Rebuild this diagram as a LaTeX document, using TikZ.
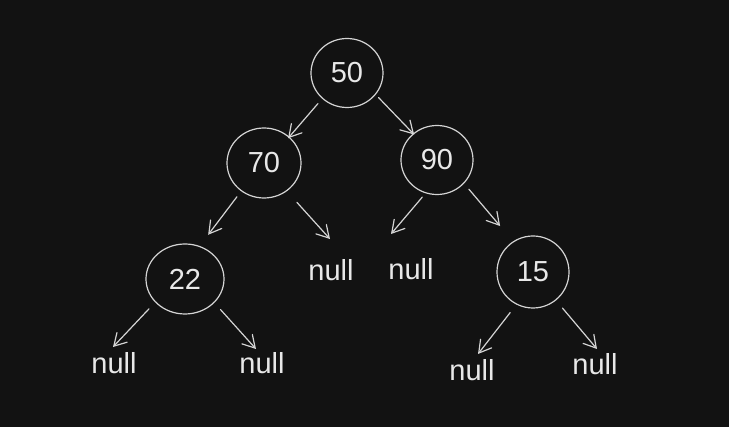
\documentclass[tikz,border=0pt]{standalone}
\usepackage{fontspec}
\setmainfont{Liberation Sans}
\usetikzlibrary{arrows.meta,shapes.geometric}
\definecolor{bg}{HTML}{121212}
\definecolor{ink}{HTML}{D4D4D4}
\definecolor{txt}{HTML}{E8E8E8}
\begin{document}
\begin{tikzpicture}[x=1pt,y=-1pt,
  treenode/.style={ellipse, draw=ink, line width=1.2pt, inner sep=0pt,
    minimum width=72pt, minimum height=69pt, text=txt,
    font=\fontsize{29}{34}\selectfont},
  nulltxt/.style={inner sep=0pt, text=txt, font=\fontsize{29}{34}\selectfont, anchor=base},
  arr/.style={draw=ink, line width=1.2pt, line cap=round,
    -{Straight Barb[length=12pt,width=14pt,line cap=round]}}]
\fill[bg] (0,0) rectangle (729,427);
\useasboundingbox (0,0) rectangle (729,427);

% tree nodes
\node[treenode] (n50) at (347,73) {50};
\node[treenode, minimum width=74pt, minimum height=70pt] (n70) at (264,163) {70};
\node[treenode] (n90) at (437,160) {90};
\node[treenode, minimum width=78pt, minimum height=70pt] (n22) at (185,279) {22};
\node[treenode, minimum width=72pt, minimum height=72pt] (n15) at (533,272) {15};

% null labels
\node[nulltxt] (nullA) at (114,374) {null};
\node[nulltxt] (nullD) at (262,374) {null};
\node[nulltxt] (nullB) at (331,281) {null};
\node[nulltxt] (nullC) at (411,280) {null};
\node[nulltxt] (nullE) at (472,381) {null};
\node[nulltxt] (nullF) at (595,375) {null};

% arrow tips above the null labels
\coordinate (tA) at (113,347);
\coordinate (tD) at (256,349);
\coordinate (tB) at (330,239);
\coordinate (tC) at (391,234);
\coordinate (tE) at (478,354);
\coordinate (tF) at (597,349);

% connectors between tree nodes
\draw[arr, shorten <=6.5pt, shorten >=-2pt] (n50.-134) -- (n70.46);
\draw[arr, shorten <=4pt, shorten >=-1.5pt] (n50.-37.7) -- (n90.132.8);
\draw[arr, shorten <=7pt, shorten >=14pt] (n70.-129) -- (n22.66);
\draw[arr, shorten <=7.4pt, shorten >=20pt] (n90.-41.2) -- (n15.123.4);

% connectors to null
\draw[arr, shorten <=15pt] (n70.-51.3) -- (tB);
\draw[arr, shorten <=5pt] (n90.-109.4) -- (tC);
\draw[arr, shorten <=9pt] (n22.-142.7) -- (tA);
\draw[arr, shorten <=9pt] (n22.-39) -- (tD);
\draw[arr, shorten <=10pt] (n15.-117.6) -- (tE);
\draw[arr, shorten <=10pt] (n15.-51) -- (tF);
\end{tikzpicture}
\end{document}
